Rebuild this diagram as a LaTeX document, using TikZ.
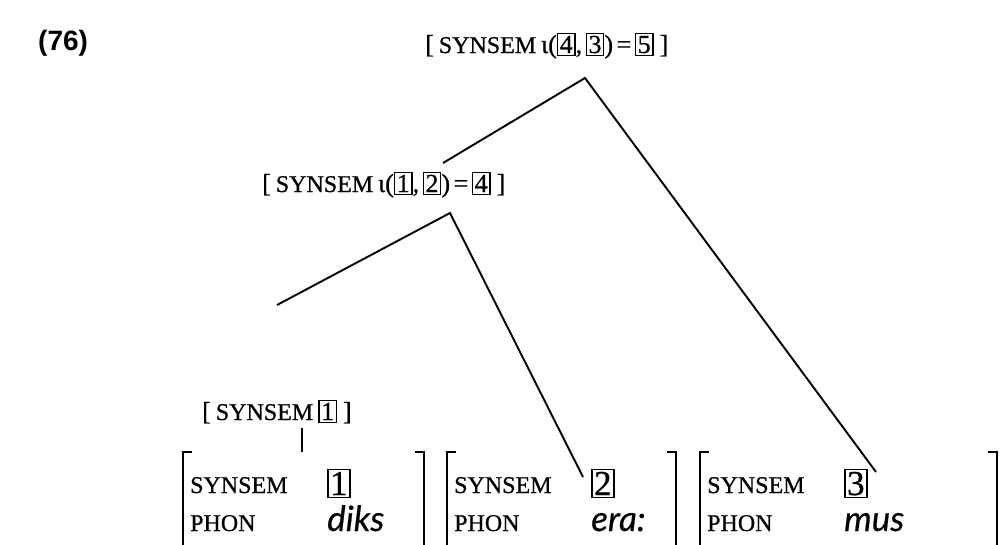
\documentclass[tikz,border=0pt]{standalone}
\usepackage{fontspec}
\setmainfont{Liberation Serif}[FakeBold=0.7]
\newfontfamily\phonfont{Lato}[FakeBold=0.4]
\newfontfamily\numfont{Liberation Sans}
\setlength{\fboxsep}{1.5pt}
\setlength{\fboxrule}{1.4pt}
\newcommand{\tb}[1]{\fbox{#1}}
\newcommand{\tbb}[1]{{\fontsize{35}{37}\selectfont\fbox{#1}}}
\newcommand{\syn}{{\fontsize{24}{26}\selectfont SYNSEM}}
\newcommand{\synb}{{\fontsize{24}{26}\selectfont SYNSEM}}
\newcommand{\phn}{{\fontsize{24}{26}\selectfont PHON}}
\begin{document}
\begin{tikzpicture}[x=1pt,y=-1pt,
  lbl/.style={inner sep=0pt, anchor=base west, font=\fontsize{26}{30}\selectfont},
  phon/.style={inner sep=0pt, anchor=base west, font=\fontsize{35}{38}\selectfont\phonfont\itshape},
  branch/.style={line width=1.9pt},
  brk/.style={line width=1.7pt}]
\useasboundingbox (0,0) rectangle (1001,544);
% example number
\node[lbl, font=\fontsize{28}{30}\selectfont\numfont\bfseries] (ex) at (38,50) {(76)};
% top mother
\node[lbl] (top) at (425,53) {[\hspace{5pt}\syn{}\hspace{5pt}ι(\tb{4},\hspace{3.5pt}\tb{3})\hspace{3.5pt}=\hspace{3.5pt}\tb{5}\hspace{6pt}]};
\coordinate (topapex) at (585,78);
\coordinate (topl) at (443,163);
\coordinate (topr) at (876,472);
% middle node
\node[lbl] (mid) at (262,192) {[\hspace{5pt}\syn{}\hspace{5pt}ι(\tb{1},\hspace{3.5pt}\tb{2})\hspace{3.5pt}=\hspace{3.5pt}\tb{4}\hspace{6pt}]};
\coordinate (midapex) at (450,213);
\coordinate (midl) at (277,305);
\coordinate (midr) at (583,477);
% low node
\node[lbl] (low) at (202,420) {[\hspace{5pt}\syn{}\hspace{5pt}\tb{1}\hspace{6pt}]};
\coordinate (lowt) at (302,428);
\coordinate (lowb) at (302,452);
% branches
\draw[branch] (topl) -- (topapex) -- (topr);
\draw[branch] (midl) -- (midapex) -- (midr);
\draw[branch] (lowt) -- (lowb);
% bottom AVMs
\foreach \l/\r/\n/\w/\k in {183/424/1/diks/a, 447/676/2/era:/b, 700/997/3/mus/c}{
  \draw[brk] (\l+9,452) -- (\l,452) -- (\l,550);
  \draw[brk] (\r-9,452) -- (\r,452) -- (\r,550);
  \node[lbl] (syn\k) at (\l+7,493) {\synb};
  \node[lbl] (ph\k) at (\l+7,531) {\phn};
  \node[lbl] (val\k) at (\l+144,495) {\tbb{\n}};
  \node[phon] (w\k) at (\l+144,531) {\w};
}
\end{tikzpicture}
\end{document}
